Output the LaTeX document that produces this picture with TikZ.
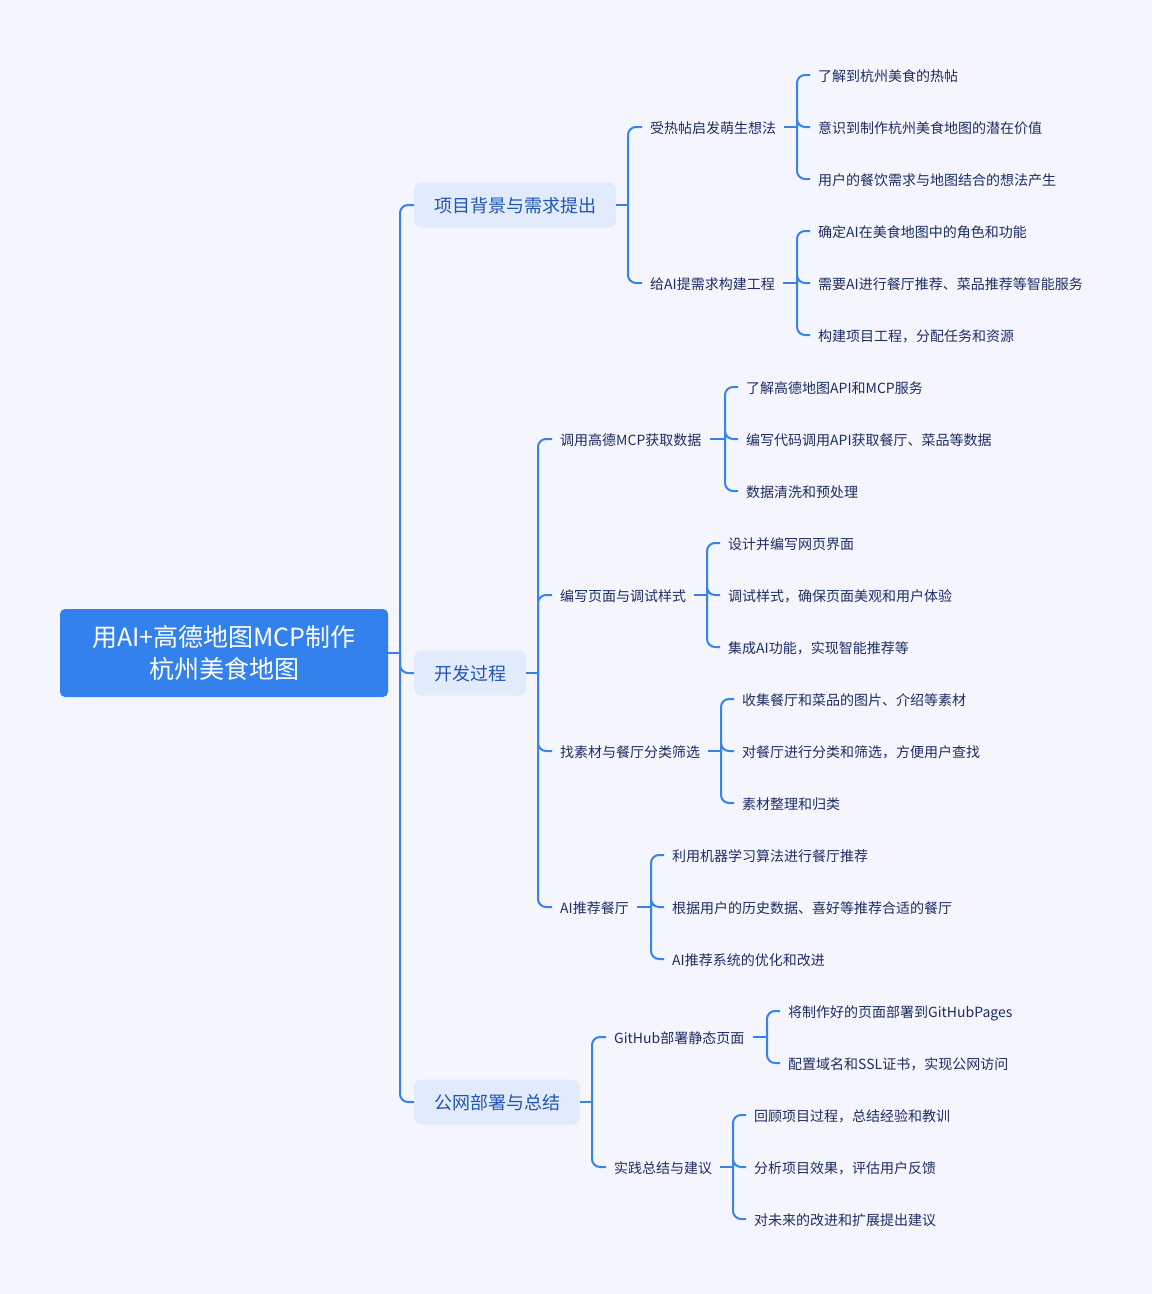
\documentclass[tikz,border=0pt]{standalone}
\usepackage{fontspec}
\setmainfont{Noto Sans CJK SC}
\usetikzlibrary{calc}
\definecolor{bg}{HTML}{F5F6FD}
\definecolor{lineblue}{HTML}{3683EE}
\definecolor{rootblue}{HTML}{3381EC}
\definecolor{lvlfill}{HTML}{E2EBFC}
\definecolor{lvltext}{HTML}{2155B5}
\definecolor{leaftext}{HTML}{1D2C63}
\begin{document}
\begin{tikzpicture}[x=1pt,y=-1pt,
 conn/.style={draw=lineblue,line width=2pt,rounded corners=8pt},
 rootbox/.style={fill=rootblue,text=white,rounded corners=5pt,minimum width=328pt,minimum height=88pt,align=center,font=\fontsize{25}{32}\selectfont,inner sep=0pt},
 topic/.style={fill=lvlfill,text=lvltext,rounded corners=7pt,minimum height=45pt,inner xsep=20pt,inner ysep=0pt,font=\fontsize{18}{22}\selectfont,anchor=west,text height=16pt,text depth=2pt},
 sub/.style={text=leaftext,inner xsep=8pt,inner ysep=2pt,font=\fontsize{14}{17}\selectfont,anchor=west,text height=13pt,text depth=1pt},
]
\fill[bg] (0,0) rectangle (1152,1294);
\useasboundingbox (0,0) rectangle (1152,1294);

% root
\node[rootbox] (root) at (224,653) {用AI+高德地图MCP制作\\杭州美食地图};

% level 1
\node[topic] (A) at (414,205) {项目背景与需求提出};
\node[topic] (B) at (414,673) {开发过程};
\node[topic] (C) at (414,1102) {公网部署与总结};

% level 2
\node[sub] (A1) at (642,127) {受热帖启发萌生想法};
\node[sub] (A2) at (642,283) {给AI提需求构建工程};
\node[sub] (B1) at (552,439) {调用高德MCP获取数据};
\node[sub] (B2) at (552,595) {编写页面与调试样式};
\node[sub] (B3) at (552,751) {找素材与餐厅分类筛选};
\node[sub] (B4) at (552,907) {AI推荐餐厅};
\node[sub] (C1) at (606,1037) {GitHub部署静态页面};
\node[sub] (C2) at (606,1167) {实践总结与建议};

% level 3
\node[sub] (A1a) at (810,75) {了解到杭州美食的热帖};
\node[sub] (A1b) at (810,127) {意识到制作杭州美食地图的潜在价值};
\node[sub] (A1c) at (810,179) {用户的餐饮需求与地图结合的想法产生};
\node[sub] (A2a) at (810,231) {确定AI在美食地图中的角色和功能};
\node[sub] (A2b) at (810,283) {需要AI进行餐厅推荐、菜品推荐等智能服务};
\node[sub] (A2c) at (810,335) {构建项目工程，分配任务和资源};

\node[sub] (B1a) at (738,387) {了解高德地图API和MCP服务};
\node[sub] (B1b) at (738,439) {编写代码调用API获取餐厅、菜品等数据};
\node[sub] (B1c) at (738,491) {数据清洗和预处理};
\node[sub] (B2a) at (720,543) {设计并编写网页界面};
\node[sub] (B2b) at (720,595) {调试样式，确保页面美观和用户体验};
\node[sub] (B2c) at (720,647) {集成AI功能，实现智能推荐等};
\node[sub] (B3a) at (734,699) {收集餐厅和菜品的图片、介绍等素材};
\node[sub] (B3b) at (734,751) {对餐厅进行分类和筛选，方便用户查找};
\node[sub] (B3c) at (734,803) {素材整理和归类};
\node[sub] (B4a) at (664,855) {利用机器学习算法进行餐厅推荐};
\node[sub] (B4b) at (664,907) {根据用户的历史数据、喜好等推荐合适的餐厅};
\node[sub] (B4c) at (664,959) {AI推荐系统的优化和改进};

\node[sub] (C1a) at (780,1011) {将制作好的页面部署到GitHubPages};
\node[sub] (C1b) at (780,1063) {配置域名和SSL证书，实现公网访问};
\node[sub] (C2a) at (746,1115) {回顾项目过程，总结经验和教训};
\node[sub] (C2b) at (746,1167) {分析项目效果，评估用户反馈};
\node[sub] (C2c) at (746,1219) {对未来的改进和扩展提出建议};

% junctions
\coordinate (Rj) at (400,653);
\coordinate (Aj) at (628,205);
\coordinate (Bj) at (538,673);
\coordinate (Cj) at (592,1102);
\coordinate (A1j) at (797,127);
\coordinate (A2j) at (797,283);
\coordinate (B1j) at (725,439);
\coordinate (B2j) at (707,595);
\coordinate (B3j) at (721,751);
\coordinate (B4j) at (651,907);
\coordinate (C1j) at (767,1037);
\coordinate (C2j) at (733,1167);

% connectors
\draw[conn] (root.east) -- (Rj);
\foreach \c in {A,B,C} \draw[conn] (Rj) |- (\c.west);

\draw[conn] (A.east) -- (Aj);
\foreach \c in {A1,A2} \draw[conn] (Aj) |- (\c.west);
\draw[conn] (B.east) -- (Bj);
\foreach \c in {B1,B2,B3,B4} \draw[conn] (Bj) |- (\c.west);
\draw[conn] (C.east) -- (Cj);
\foreach \c in {C1,C2} \draw[conn] (Cj) |- (\c.west);

\draw[conn] (A1.east) -- (A1j);
\foreach \c in {A1a,A1b,A1c} \draw[conn] (A1j) |- (\c.west);
\draw[conn] (A2.east) -- (A2j);
\foreach \c in {A2a,A2b,A2c} \draw[conn] (A2j) |- (\c.west);
\draw[conn] (B1.east) -- (B1j);
\foreach \c in {B1a,B1b,B1c} \draw[conn] (B1j) |- (\c.west);
\draw[conn] (B2.east) -- (B2j);
\foreach \c in {B2a,B2b,B2c} \draw[conn] (B2j) |- (\c.west);
\draw[conn] (B3.east) -- (B3j);
\foreach \c in {B3a,B3b,B3c} \draw[conn] (B3j) |- (\c.west);
\draw[conn] (B4.east) -- (B4j);
\foreach \c in {B4a,B4b,B4c} \draw[conn] (B4j) |- (\c.west);
\draw[conn] (C1.east) -- (C1j);
\foreach \c in {C1a,C1b} \draw[conn] (C1j) |- (\c.west);
\draw[conn] (C2.east) -- (C2j);
\foreach \c in {C2a,C2b,C2c} \draw[conn] (C2j) |- (\c.west);
\end{tikzpicture}
\end{document}
